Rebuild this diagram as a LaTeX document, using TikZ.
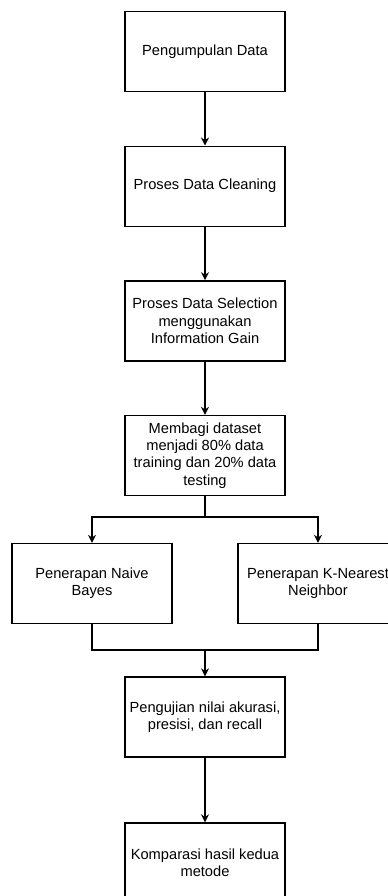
\documentclass[tikz,border=0pt]{standalone}
\usepackage{fontspec}
\setmainfont{Liberation Sans}
\usetikzlibrary{arrows.meta}
\usetikzlibrary{calc}
\usetikzlibrary{positioning}

\begin{document}
\begin{tikzpicture}[x=0.75pt, y=-0.75pt, node distance=40pt,
    stepbox/.style={draw, line width=1pt, rectangle, minimum width=120pt,
      minimum height=60pt, inner sep=0pt, align=center,
      font=\fontsize{11}{13}\selectfont},
    flow/.style={line width=1pt, -{Stealth[length=6pt, width=6pt]}},
    joint/.style={line width=1pt}]

    \useasboundingbox (0, 0) rectangle (388, 896);

    % main column
    \node[stepbox] (kumpul) at (205, 51.5) {Pengumpulan Data};
    \node[stepbox, below=of kumpul] (cleaning) {Proses Data Cleaning};
    \node[stepbox, below=of cleaning] (seleksi)
      {Proses Data Selection\\menggunakan\\Information Gain};
    \node[stepbox, below=of seleksi] (bagi)
      {Membagi dataset\\menjadi 80\% data\\training dan 20\% data\\testing};

    % two methods
    \node[stepbox] (naive) at (92, 583.5) {Penerapan Naive\\Bayes};
    \node[stepbox] (knn) at (318, 583.5) {Penerapan K-Nearest\\Neighbor};

    \node[stepbox] (uji) at (205, 717)
      {Pengujian nilai akurasi,\\presisi, dan recall};
    \node[stepbox] (komparasi) at (205, 863) {Komparasi hasil kedua\\metode};

    \coordinate (split) at (205, 517);
    \coordinate (merge) at (205, 650);

    \draw[flow] (kumpul) -- (cleaning);
    \draw[flow] (cleaning) -- (seleksi);
    \draw[flow] (seleksi) -- (bagi);
    \draw[joint] (bagi) -- (split); % branch out
    \draw[flow] (split) -| (naive);
    \draw[flow] (split) -| (knn);
    \draw[joint] (naive) |- (merge); % join again
    \draw[joint] (knn) |- (merge);
    \draw[flow] (merge) -- (uji);
    \draw[flow] (uji) -- (komparasi);

\end{tikzpicture}
\end{document}
